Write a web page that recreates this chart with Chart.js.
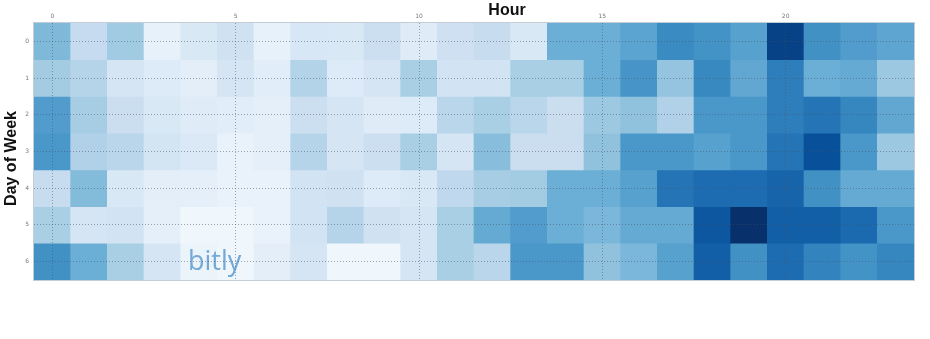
<!DOCTYPE html>
<html>
<head>
<meta charset="utf-8">
<script src="https://cdn.jsdelivr.net/npm/chart.js@4/dist/chart.umd.min.js"></script>
<style>
  html, body { margin: 0; padding: 0; background: #fff; overflow: hidden; }
  #wrap { width: 930px; height: 339px; position: relative; }
</style>
</head>
<body>
<div id="wrap"><canvas id="c" width="930" height="339"></canvas></div>
<script>
// Hours of the day (columns) and days of the week (rows)
const hours = [0,1,2,3,4,5,6,7,8,9,10,11,12,13,14,15,16,17,18,19,20,21,22,23];
const days = ['0','1','2','3','4','5','6'];

// Relative click activity per day, one value per hour (0 = lowest, 1 = highest)
const day0 = [0.45,0.25,0.37,0.08,0.15,0.20,0.08,0.16,0.15,0.22,0.12,0.21,0.24,0.15,0.50,0.50,0.55,0.65,0.62,0.56,0.93,0.63,0.58,0.54];
const day1 = [0.36,0.30,0.17,0.13,0.10,0.17,0.11,0.31,0.13,0.17,0.34,0.19,0.19,0.34,0.34,0.50,0.61,0.40,0.66,0.53,0.70,0.50,0.52,0.38];
const day2 = [0.58,0.35,0.23,0.15,0.12,0.11,0.09,0.22,0.17,0.12,0.13,0.29,0.34,0.29,0.23,0.38,0.41,0.32,0.60,0.60,0.70,0.74,0.67,0.53];
const day3 = [0.60,0.32,0.29,0.18,0.14,0.07,0.09,0.30,0.17,0.22,0.34,0.17,0.43,0.23,0.23,0.41,0.60,0.60,0.56,0.60,0.74,0.88,0.60,0.38];
const day4 = [0.24,0.44,0.15,0.10,0.09,0.07,0.07,0.19,0.20,0.13,0.15,0.27,0.35,0.36,0.50,0.50,0.56,0.74,0.77,0.77,0.80,0.63,0.52,0.52];
const day5 = [0.34,0.17,0.19,0.09,0.04,0.04,0.07,0.19,0.30,0.20,0.17,0.34,0.52,0.58,0.50,0.46,0.52,0.52,0.85,1.00,0.82,0.82,0.78,0.60];
const day6 = [0.63,0.50,0.34,0.17,0.06,0.04,0.10,0.17,0.04,0.04,0.17,0.34,0.29,0.60,0.60,0.41,0.46,0.56,0.82,0.63,0.77,0.68,0.62,0.67];
const grid = [day0, day1, day2, day3, day4, day5, day6];

// Sequential blue colour ramp
const ramp = [
  [0.000, [247,251,255]], [0.125, [222,235,247]], [0.250, [198,219,239]],
  [0.375, [158,202,225]], [0.500, [107,174,214]], [0.625, [66,146,198]],
  [0.750, [33,113,181]],  [0.875, [8,81,156]],    [1.000, [8,48,107]]
];
function blues(v) {
  v = Math.max(0, Math.min(1, v));
  for (let i = 1; i < ramp.length; i++) {
    if (v <= ramp[i][0]) {
      const [a, ca] = ramp[i - 1], [b, cb] = ramp[i];
      const t = (v - a) / (b - a);
      const c = ca.map((x, k) => Math.round(x + (cb[k] - x) * t));
      return `rgb(${c[0]},${c[1]},${c[2]})`;
    }
  }
  return 'rgb(8,48,107)';
}

// One floating-bar dataset per day: each bar spans its row, coloured by value
const datasets = grid.map((vals, d) => ({
  label: days[d],
  data: hours.map(() => [d, d + 1]),
  backgroundColor: vals.map(blues),
  borderWidth: 0,
  barPercentage: 1,
  categoryPercentage: 1,
  grouped: false
}));

const dotColor = 'rgba(70,80,100,0.5)';

// Extra text: axis titles, frame, and watermark
const decor = {
  id: 'decor',
  afterDatasetsDraw(chart) {
    const { ctx, chartArea: a } = chart;
    ctx.save();
    ctx.font = '27px "Open Sans", Lato, sans-serif';
    ctx.fillStyle = 'rgba(108,164,212,0.95)';
    ctx.textAlign = 'left';
    ctx.textBaseline = 'alphabetic';
    ctx.fillText('bitly', a.left + 154, a.bottom - 10);
    ctx.restore();
  },
  afterDraw(chart) {
    const { ctx, chartArea: a } = chart;
    ctx.save();
    ctx.strokeStyle = 'rgba(190,200,210,0.9)';
    ctx.lineWidth = 1;
    ctx.strokeRect(a.left - 0.5, a.top - 0.5, a.right - a.left + 1, a.bottom - a.top + 1);
    ctx.font = 'bold 16px "Liberation Sans", Arial, sans-serif';
    ctx.fillStyle = '#111';
    ctx.textAlign = 'center';
    ctx.textBaseline = 'middle';
    ctx.fillText('Hour', (a.left + a.right) / 2 + 33, 11);
    ctx.translate(12, (a.top + a.bottom) / 2 + 7);
    ctx.rotate(-Math.PI / 2);
    ctx.fillText('Day of Week', 0, 0);
    ctx.restore();
  }
};

new Chart(document.getElementById('c'), {
  type: 'bar',
  data: { labels: hours, datasets },
  plugins: [decor],
  options: {
    responsive: false,
    maintainAspectRatio: false,
    animation: false,
    devicePixelRatio: 1,
    layout: { padding: { left: 0, top: 0, right: 16, bottom: 59 } },
    plugins: { legend: { display: false }, tooltip: { enabled: false }, title: { display: false } },
    scales: {
      x: {
        type: 'category',
        position: 'top',
        offset: true,
        afterFit: s => { s.height = 23; },
        grid: {
          offset: false,
          drawTicks: false,
          z: 1,
          lineWidth: 1,
          color: c => (c.index % 5 === 0 ? dotColor : 'rgba(0,0,0,0)')
        },
        border: { display: false, dash: [1, 2] },
        ticks: {
          autoSkip: false,
          maxRotation: 0,
          padding: 3,
          color: '#777',
          font: { size: 6, family: 'DejaVu Sans' },
          callback: (v, i) => (i % 5 === 0 ? String(hours[i]) : '')
        }
      },
      y: {
        type: 'linear',
        min: 0,
        max: 7,
        reverse: true,
        afterFit: s => { s.width = 34; },
        afterBuildTicks: s => { s.ticks = days.map((d, i) => ({ value: i + 0.5 })); },
        grid: { drawTicks: false, z: 1, lineWidth: 1, color: dotColor },
        border: { display: false, dash: [1, 2] },
        ticks: {
          padding: 5,
          color: '#777',
          font: { size: 6, family: 'DejaVu Sans' },
          callback: v => days[Math.round(v - 0.5)]
        }
      }
    }
  }
});
</script>
</body>
</html>
